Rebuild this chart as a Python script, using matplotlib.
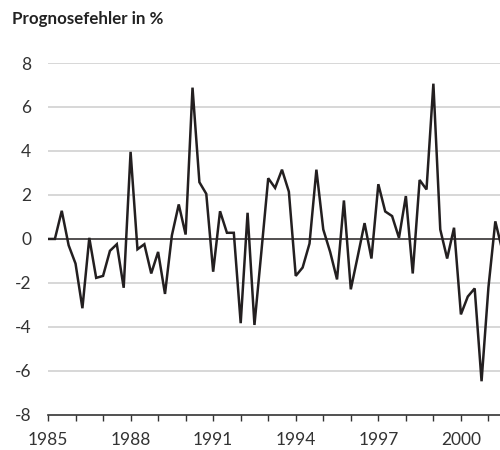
import numpy as np
import matplotlib
matplotlib.use("Agg")
import matplotlib.pyplot as plt

plt.rcParams['font.family'] = ['Lato', 'DejaVu Sans']

# Quartalswerte, Start 1985 Q1
start_jahr = 1985
fehler = [
    0.0, 0.0, 1.28, -0.29,      # 1985
    -1.12, -3.15, 0.05, -1.77,  # 1986
    -1.68, -0.54, -0.24, -2.22, # 1987
    3.96, -0.47, -0.24, -1.57,  # 1988
    -0.59, -2.5, 0.16, 1.57,    # 1989
    0.2, 6.88, 2.58, 2.05,      # 1990
    -1.49, 1.26, 0.28, 0.28,    # 1991
    -3.83, 1.19, -3.91, -0.6,   # 1992
    2.76, 2.32, 3.15, 2.15,     # 1993
    -1.68, -1.3, -0.21, 3.15,   # 1994
    0.43, -0.59, -1.84, 1.75,   # 1995
    -2.29, -0.8, 0.72, -0.89,   # 1996
    2.49, 1.25, 1.04, 0.05,     # 1997
    1.95, -1.57, 2.68, 2.25,    # 1998
    7.06, 0.43, -0.89, 0.51,    # 1999
    -3.43, -2.62, -2.25, -6.47, # 2000
    -2.2, 0.8, -0.5,            # 2001
]
jahre = list(range(1985, 2002))
beschriftete_jahre = [1985, 1988, 1991, 1994, 1997, 2000]
y_ticks = [-8, -6, -4, -2, 0, 2, 4, 6, 8]

x = start_jahr + np.arange(len(fehler)) / 4.0

fig = plt.figure(figsize=(5, 4.5), dpi=100)
ax = fig.add_axes([0.096, 0.078, 0.904, 0.782])

for yt in y_ticks:
    if yt == 0 or yt == -8:
        continue
    ax.axhline(yt, color='#d4d4d4', lw=1.3, zorder=1)
ax.axhline(0, color='#231f20', lw=1.1, zorder=2)

ax.plot(x, fehler, color='#231f20', lw=1.8, zorder=3, solid_joinstyle='miter')

ax.set_xlim(1985, 2001.42)
ax.set_ylim(-8, 8)

ax.set_xticks(jahre)
ax.set_xticklabels([str(j) if j in beschriftete_jahre else '' for j in jahre])
ax.set_yticks(y_ticks)
ax.set_yticklabels([str(v) for v in y_ticks])

for s in ['top', 'right', 'left']:
    ax.spines[s].set_visible(False)
ax.spines['bottom'].set_color('#333333')
ax.spines['bottom'].set_linewidth(1.2)

ax.tick_params(axis='x', length=4, width=1, color='#333333', pad=8,
               labelsize=12.5, labelcolor='#333333')
ax.tick_params(axis='y', length=0, pad=12, labelsize=12.5, labelcolor='#333333')

fig.text(0.024, 0.958, 'Prognosefehler in %', fontsize=12.2, fontweight='bold',
         color='#222222', va='center', ha='left')

fig.savefig('out.png', dpi=100)
